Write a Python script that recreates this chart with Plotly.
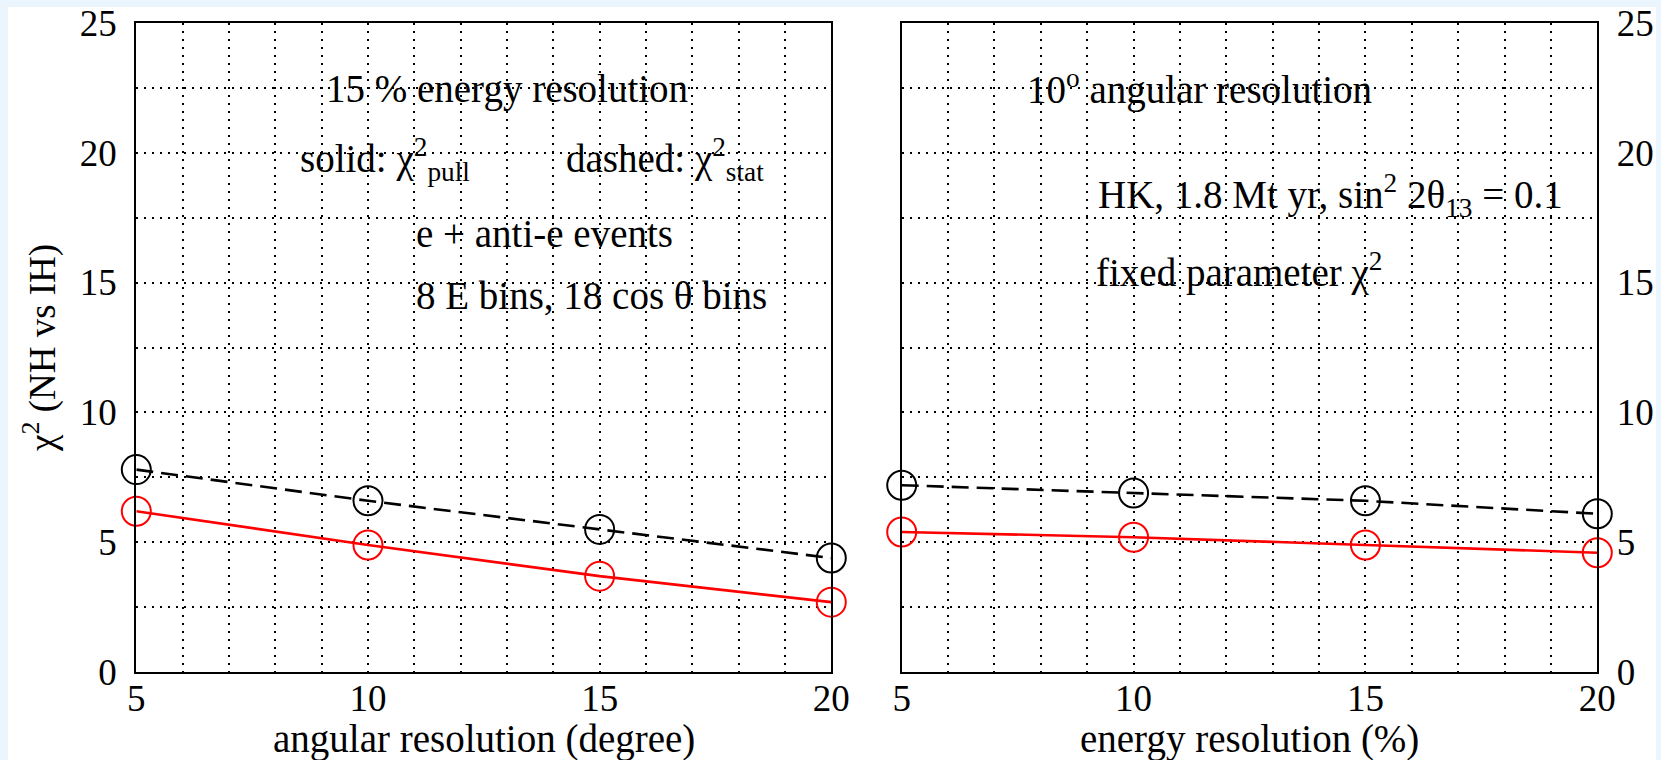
import plotly.graph_objects as go

# Scan over angular resolution (15 % energy resolution)
ang_res = [5, 10, 15, 20]
ang_chi2_pull = [6.2, 4.9, 3.7, 2.7]
ang_chi2_stat = [7.8, 6.6, 5.5, 4.4]

# Scan over energy resolution (10 degree angular resolution)
en_res = [5, 10, 15, 20]
en_chi2_pull = [5.4, 5.2, 4.9, 4.6]
en_chi2_stat = [7.2, 6.9, 6.6, 6.1]

x_ticks = [5, 10, 15, 20]
y_ticks = [0, 5, 10, 15, 20, 25]

W, H = 1661, 760
SERIF = "Liberation Serif, Times New Roman, serif"
FS_TICK = 37
FS_TEXT = 39

fig = go.Figure()


def add_pair(x, pull, stat, xa, ya):
    fig.add_trace(go.Scatter(
        x=x, y=stat, xaxis=xa, yaxis=ya, mode="lines+markers",
        line=dict(color="black", width=2.6, dash="17px,8px"),
        marker=dict(symbol="circle-open", size=29, color="black", line=dict(width=2)),
        cliponaxis=False, showlegend=False))
    fig.add_trace(go.Scatter(
        x=x, y=pull, xaxis=xa, yaxis=ya, mode="lines+markers",
        line=dict(color="red", width=2.6),
        marker=dict(symbol="circle-open", size=29, color="red", line=dict(width=2)),
        cliponaxis=False, showlegend=False))


add_pair(ang_res, ang_chi2_pull, ang_chi2_stat, "x", "y")
add_pair(en_res, en_chi2_pull, en_chi2_stat, "x2", "y2")

grid = dict(gridcolor="black", gridwidth=1.5, griddash="2px,6px")
common_x = dict(
    range=[5, 20], tickmode="array", tickvals=x_ticks,
    ticktext=[str(v) for v in x_ticks], automargin=False,
    showline=True, mirror=True, linecolor="black", linewidth=2.2,
    showgrid=True, zeroline=False, ticks="", ticklabelstandoff=-8,
    minor=dict(tickmode="linear", tick0=5, dtick=1, showgrid=True, **grid),
    tickfont=dict(family=SERIF, size=FS_TICK, color="black"),
    **grid)
common_y = dict(
    range=[0, 25], tickmode="array", tickvals=y_ticks,
    ticktext=[str(v) for v in y_ticks], automargin=False,
    showline=True, mirror=True, linecolor="black", linewidth=2.2,
    showgrid=True, zeroline=False, ticks="", ticklabelstandoff=10,
    minor=dict(tickmode="linear", tick0=0, dtick=2.5, showgrid=True, **grid),
    tickfont=dict(family=SERIF, size=FS_TICK, color="black"),
    **grid)

ydom = [1 - 672.3 / H, 1 - 22.7 / H]
fig.update_layout(
    width=W, height=H, autosize=False,
    margin=dict(l=0, r=0, t=0, b=0, pad=0),
    paper_bgcolor="#ebf5fe",
    plot_bgcolor="white",
    xaxis=dict(domain=[136.3 / W, 831.3 / W], anchor="y", **common_x),
    yaxis=dict(domain=ydom, anchor="x", side="left", **common_y),
    xaxis2=dict(domain=[901.7 / W, 1597.3 / W], anchor="y2", **common_x),
    yaxis2=dict(domain=ydom, anchor="x2", side="right", **common_y),
    shapes=[dict(type="rect", xref="paper", yref="paper", layer="below",
                 x0=8 / W, x1=1656 / W, y0=-0.01, y1=1 - 7 / H,
                 fillcolor="white", line=dict(width=0))],
)


def note(text, x, y, xref, yref, xanchor="center", size=FS_TEXT, **kw):
    fig.add_annotation(text=text, x=x, y=y, xref=xref, yref=yref,
                       xanchor=xanchor, yanchor="middle", showarrow=False,
                       font=dict(family=SERIF, size=size, color="black"), **kw)


# left panel labels
note("15 % energy resolution", 13.0, 22.43, "x", "y")
note("solid: χ<sup>2</sup><sub>pull</sub>", 10.36, 19.72, "x", "y")
note("dashed: χ<sup>2</sup><sub>stat</sub>", 16.4, 19.72, "x", "y")
note("e + anti-e events", 11.0, 16.9, "x", "y", xanchor="left")
note("8 E bins, 18 cos θ bins", 11.0, 14.5, "x", "y", xanchor="left")

# right panel labels
note("10<sup>o</sup> angular resolution", 11.42, 22.5, "x2", "y2")
note("HK, 1.8 Mt yr, sin<sup>2</sup> 2θ<sub>13</sub> = 0.1", 14.25, 18.36, "x2", "y2")
note("fixed parameter χ<sup>2</sup>", 12.28, 15.48, "x2", "y2")

# axis titles
note("angular resolution (degree)", 484 / W, 1 - 739 / H, "paper", "paper")
note("energy resolution (%)", 1249.5 / W, 1 - 739 / H, "paper", "paper")
note("χ<sup>2</sup> (NH vs IH)", 40 / W, 1 - 348 / H, "paper", "paper",
     size=FS_TICK, textangle=-90)

fig.write_html("out.html")
